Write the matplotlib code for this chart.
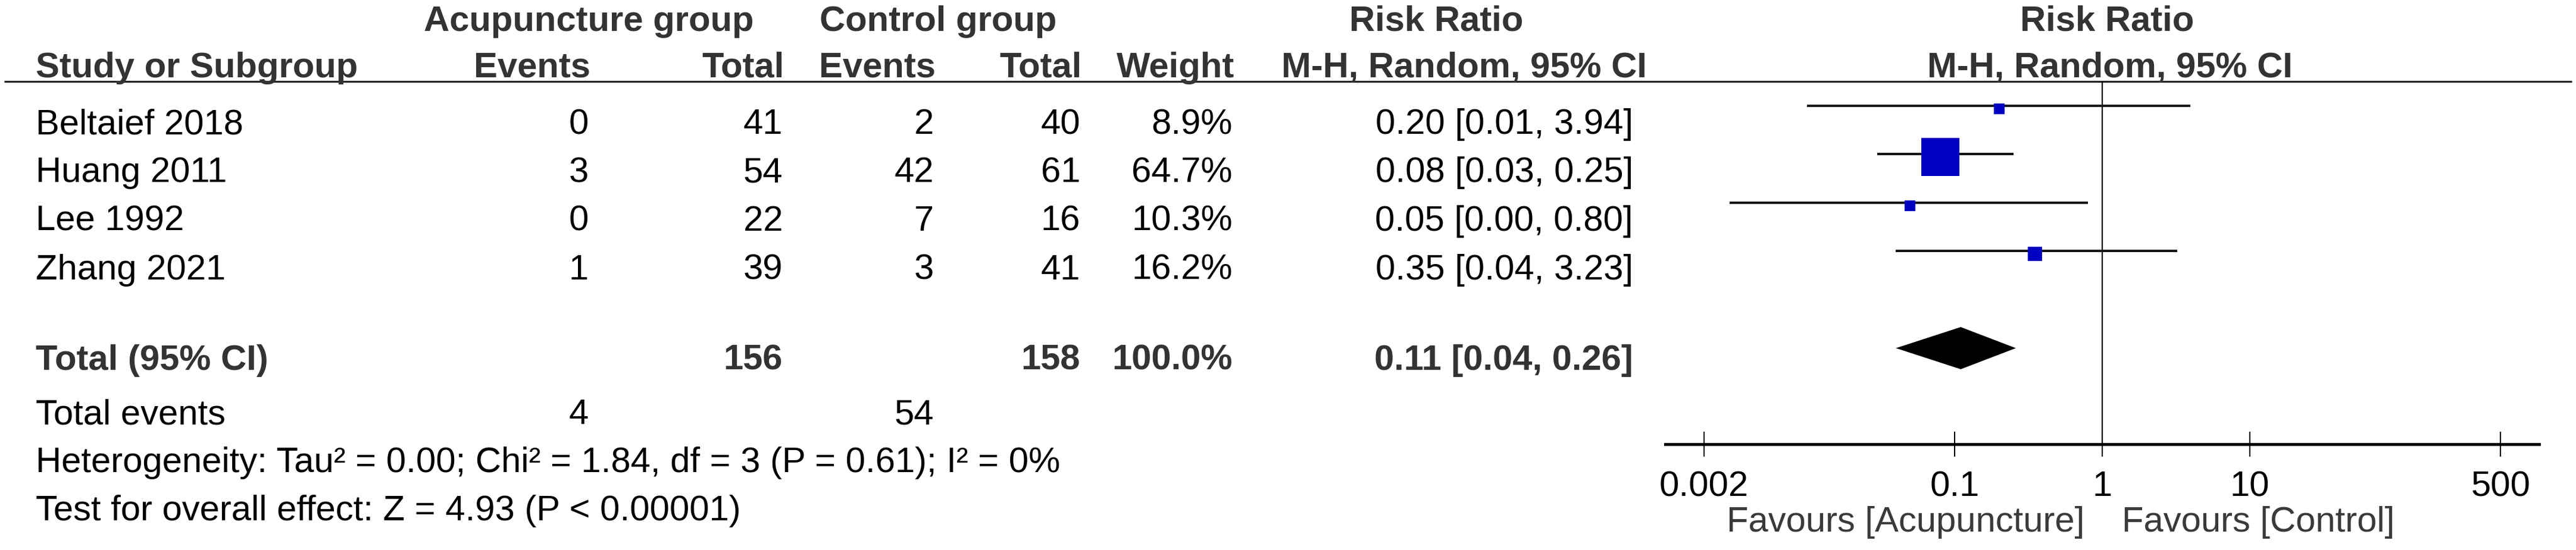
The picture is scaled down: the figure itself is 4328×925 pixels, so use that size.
import numpy as np
import matplotlib.pyplot as plt

plt.rcParams['font.family'] = ['Liberation Sans', 'DejaVu Sans']

# data
studies = ['Beltaief 2018', 'Huang 2011', 'Lee 1992', 'Zhang 2021']
acu_events = [0, 3, 0, 1]
acu_total = [41, 54, 22, 39]
ctrl_events = [2, 42, 7, 3]
ctrl_total = [40, 61, 16, 41]
weight = [8.9, 64.7, 10.3, 16.2]
rr = [0.20, 0.08, 0.05, 0.35]
ci_low = [0.01, 0.03, 0.003, 0.04]
ci_high = [3.94, 0.25, 0.80, 3.23]

total_rr = 0.11
total_low = 0.04
total_high = 0.26
total_weight = '100.0%'
het_text = 'Heterogeneity: Tau² = 0.00; Chi² = 1.84, df = 3 (P = 0.61); I² = 0%'
effect_text = 'Test for overall effect: Z = 4.93 (P < 0.00001)'

tick_vals = [0.002, 0.1, 1, 10, 500]
tick_labels = ['0.002', '0.1', '1', '10', '500']

W, H = 4328, 925
FS = 43
HEAD = '#333333'
BLUE = '#0000c0'

fig = plt.figure(figsize=(W / 100, H / 100), dpi=100)

# table part, pixel coordinates
ax_t = fig.add_axes([0, 0, 1, 1])
ax_t.set_xlim(0, W)
ax_t.set_ylim(H, 0)
ax_t.axis('off')

def txt(x, y, s, ha='right', bold=False, color='black', size=FS):
    ax_t.text(x, y, s, ha=ha, va='baseline', fontsize=size,
              fontweight='bold' if bold else 'normal', color=color)

# column right edges
c_ev1, c_tot1, c_ev2, c_tot2, c_w, c_ci = 989, 1315, 1569, 1815, 2071, 2744
x_study = 60

# header
txt(712, 52, 'Acupuncture group', ha='left', bold=True, color=HEAD)
txt(1377, 52, 'Control group', ha='left', bold=True, color=HEAD)
txt(2267, 52, 'Risk Ratio', ha='left', bold=True, color=HEAD)
txt(3540, 52, 'Risk Ratio', ha='center', bold=True, color=HEAD)
txt(x_study, 130, 'Study or Subgroup', ha='left', bold=True, color=HEAD)
for x, s in [(c_ev1, 'Events'), (c_tot1, 'Total'), (c_ev2, 'Events'),
             (c_tot2, 'Total'), (c_w, 'Weight')]:
    txt(x + 3, 130, s, bold=True, color=HEAD)
txt(2153, 130, 'M-H, Random, 95% CI', ha='left', bold=True, color=HEAD)
txt(3545, 130, 'M-H, Random, 95% CI', ha='center', bold=True, color=HEAD)
ax_t.plot([7, 4321], [137, 137], color='#222222', lw=2.3, solid_capstyle='butt')

# study rows
Y0, DY = 178, 81.5          # forest row centres (px)
base_off = 47               # text baseline below row centre
for k, name in enumerate(studies):
    yb = Y0 + DY * k + base_off
    txt(x_study, yb, name, ha='left')
    txt(c_ev1, yb, str(acu_events[k]))
    txt(c_tot1, yb, str(acu_total[k]))
    txt(c_ev2, yb, str(ctrl_events[k]))
    txt(c_tot2, yb, str(ctrl_total[k]))
    txt(c_w, yb, f'{weight[k]:.1f}%')
    txt(c_ci, yb, f'{rr[k]:.2f} [{ci_low[k]:.2f}, {ci_high[k]:.2f}]')

# totals
yb = 622
txt(x_study, yb, 'Total (95% CI)', ha='left', bold=True, color=HEAD)
txt(c_tot1, yb, str(sum(acu_total)), bold=True, color=HEAD)
txt(c_tot2, yb, str(sum(ctrl_total)), bold=True, color=HEAD)
txt(c_w, yb, total_weight, bold=True, color=HEAD)
txt(c_ci, yb, f'{total_rr:.2f} [{total_low:.2f}, {total_high:.2f}]', bold=True, color=HEAD)

yb = 713
txt(x_study, yb, 'Total events', ha='left')
txt(c_ev1, yb, str(sum(acu_events)))
txt(c_ev2, yb, str(sum(ctrl_events)))
txt(x_study, 794, het_text, ha='left')
txt(x_study, 875, effect_text, ha='left')

txt(3502, 894, 'Favours [Acupuncture]', ha='right', color='#3a3a3a')
txt(3565, 894, 'Favours [Control]', ha='left', color='#3a3a3a')

# forest part
top_px, bot_px = 137, 747
dec = 2.96
centre_x, px_dec = 3532, 248
left_px = centre_x - dec * px_dec
ax = fig.add_axes([left_px / W, (H - bot_px) / H, 2 * dec * px_dec / W, (bot_px - top_px) / H])
ax.set_facecolor('none')
ax.set_xscale('log')
ax.set_xlim(10 ** -dec, 10 ** dec)
ax.set_ylim((bot_px - Y0) / DY, (top_px - Y0) / DY)
for s in ['left', 'right', 'top']:
    ax.spines[s].set_visible(False)
ax.spines['bottom'].set_linewidth(3.6)
ax.set_yticks([])
ax.set_xticks(tick_vals, tick_labels)
ax.minorticks_off()
ax.tick_params(axis='x', direction='inout', length=30, width=1.5, pad=17, labelsize=FS)

ax.axvline(1, color='black', lw=1.6)

for k in range(len(studies)):
    ax.plot([ci_low[k], ci_high[k]], [k, k], color='#151515', lw=2.9,
            solid_capstyle='butt', clip_on=False)
    side = 10 + 0.83 * weight[k]   # px
    ax.plot(rr[k], k + 0.06, marker='s', ms=side * 0.72, color=BLUE, mew=0,
            clip_on=False)

kt = 5
h = 0.435
ax.fill([total_low, total_rr, total_high, total_rr], [kt, kt - h, kt, kt + h],
        color='black', lw=0)

fig.savefig('out.png', dpi=100)
